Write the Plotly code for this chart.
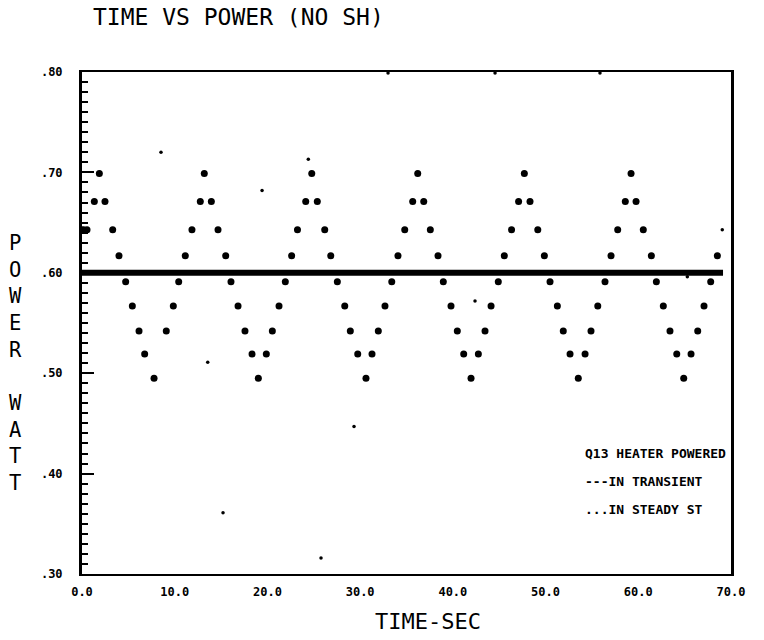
import plotly.graph_objects as go

# sampled heater power, time in s, power in W
sample_time = [
    0.16, 0.54, 1.33, 1.87, 2.48, 3.31, 3.99, 4.71, 5.43, 6.15, 6.76, 7.77,
    9.09, 9.85, 10.43, 11.14, 11.86, 12.76, 13.19, 13.95, 14.67, 15.50, 16.07,
    16.83, 17.58, 18.34, 19.02, 19.88, 20.53, 21.25, 21.93, 22.61, 23.24,
    24.13, 24.78, 25.38, 26.18, 26.83, 27.54, 28.34, 28.94, 29.74, 30.63,
    31.28, 31.96, 32.68, 33.41, 34.08, 34.81, 35.67, 36.21, 36.86, 37.57,
    38.40, 38.97, 39.80, 40.48, 41.17, 41.96, 42.75, 43.47, 44.12, 44.90,
    45.55, 46.33, 47.09, 47.71, 48.32, 49.16, 49.87, 50.48, 51.27, 51.91,
    52.64, 53.53, 54.26, 54.90, 55.63, 56.41, 57.06, 57.78, 58.60, 59.22,
    59.76, 60.54, 61.41, 61.95, 62.70, 63.42, 64.15, 64.90, 65.69, 66.41,
    67.09, 67.81, 68.53,
]
sample_power = [
    0.643, 0.643, 0.671, 0.699, 0.671, 0.643, 0.617, 0.591, 0.567, 0.542, 0.519, 0.495,
    0.542, 0.567, 0.591, 0.617, 0.643, 0.671, 0.699, 0.671, 0.643, 0.617, 0.591,
    0.567, 0.542, 0.519, 0.495, 0.519, 0.542, 0.567, 0.591, 0.617, 0.643,
    0.671, 0.699, 0.671, 0.643, 0.617, 0.591, 0.567, 0.542, 0.519, 0.495,
    0.519, 0.542, 0.567, 0.591, 0.617, 0.643, 0.671, 0.699, 0.671, 0.643,
    0.617, 0.591, 0.567, 0.542, 0.519, 0.495, 0.519, 0.542, 0.567, 0.591,
    0.617, 0.643, 0.671, 0.699, 0.671, 0.643, 0.617, 0.591, 0.567, 0.542,
    0.519, 0.495, 0.519, 0.542, 0.567, 0.591, 0.617, 0.643, 0.671, 0.699,
    0.671, 0.643, 0.617, 0.591, 0.567, 0.542, 0.519, 0.495, 0.519, 0.542,
    0.567, 0.591, 0.617,
]

# stray small points (glitches)
glitch_time = [8.52, 13.56, 15.21, 19.42, 24.41, 25.78, 29.34, 33.01, 42.39,
               44.55, 55.87, 57.28, 65.29, 67.49, 69.06]
glitch_power = [0.720, 0.511, 0.361, 0.682, 0.713, 0.316, 0.447, 0.799, 0.572,
                0.799, 0.799, 0.856, 0.596, 0.808, 0.643]

# steady level line
level_time = [0.0, 69.14]
level_power = [0.60, 0.60]

y_ticks = [0.30, 0.40, 0.50, 0.60, 0.70, 0.80]
y_tick_text = ['.30', '.40', '.50', '.60', '.70', '.80']
x_ticks = [0, 10, 20, 30, 40, 50, 60, 70]

legend_lines = ['Q13 HEATER POWERED', '---IN TRANSIENT', '...IN STEADY ST']

mono = 'DejaVu Sans Mono'

# page body has an 8px margin, so the figure is a bit smaller than the window
W, H = 756, 632

fig = go.Figure()

fig.add_trace(go.Scatter(
    x=level_time, y=level_power,
    mode='lines',
    line=dict(color='black', width=6),
    showlegend=False
))

fig.add_trace(go.Scatter(
    x=sample_time, y=sample_power,
    mode='markers',
    marker=dict(color='black', size=7, line=dict(width=0)),
    showlegend=False
))

fig.add_trace(go.Scatter(
    x=glitch_time, y=glitch_power,
    mode='markers',
    marker=dict(color='black', size=3.5, line=dict(width=0)),
    cliponaxis=False,
    showlegend=False
))

# legend text block inside plot
for i, txt in enumerate(legend_lines):
    fig.add_annotation(
        text=txt, xref='paper', yref='paper',
        x=0.772, y=0.241 - i * 0.056,
        xanchor='left', yanchor='middle', showarrow=False,
        font=dict(family=mono, size=13, color='black', weight='bold')
    )

# stacked y axis title
fig.add_annotation(
    text='<br>'.join(list('POWER') + [''] + list('WATT')),
    xref='paper', yref='paper',
    x=-0.103, y=0.42,
    xanchor='center', yanchor='middle', showarrow=False,
    font=dict(family=mono, size=20.5, color='black')
)

fig.add_annotation(
    text='TIME-SEC', xref='paper', yref='paper',
    x=0.533, y=-0.095,
    xanchor='center', yanchor='middle', showarrow=False,
    font=dict(family=mono, size=22, color='black')
)

fig.update_layout(
    width=W, height=H,
    margin=dict(l=74, r=33, t=64, b=66),
    paper_bgcolor='white',
    plot_bgcolor='white',
    title=dict(
        text='TIME VS POWER (NO SH)',
        x=85 / W, xanchor='left', xref='container',
        y=1 - 9 / H, yanchor='middle', yref='container',
        font=dict(family=mono, size=23, color='black')
    ),
    xaxis=dict(
        range=[0, 70],
        tickvals=x_ticks,
        tickformat='.1f',
        ticks='',
        showline=True, linecolor='black', linewidth=2, mirror=True,
        showgrid=False, zeroline=False,
        ticklabelstandoff=6,
        tickfont=dict(family=mono, size=12, color='black', weight='bold')
    ),
    yaxis=dict(
        range=[0.30, 0.80],
        tickvals=y_ticks,
        ticktext=y_tick_text,
        ticks='inside', ticklen=12, tickwidth=2, tickcolor='black',
        minor=dict(ticks='inside', ticklen=6, tickwidth=2, tickcolor='black', dtick=0.01),
        showline=True, linecolor='black', linewidth=3, mirror=True,
        showgrid=False, zeroline=False,
        ticklabelstandoff=14,
        tickfont=dict(family=mono, size=12, color='black', weight='bold')
    )
)

fig.write_html("out.html")
